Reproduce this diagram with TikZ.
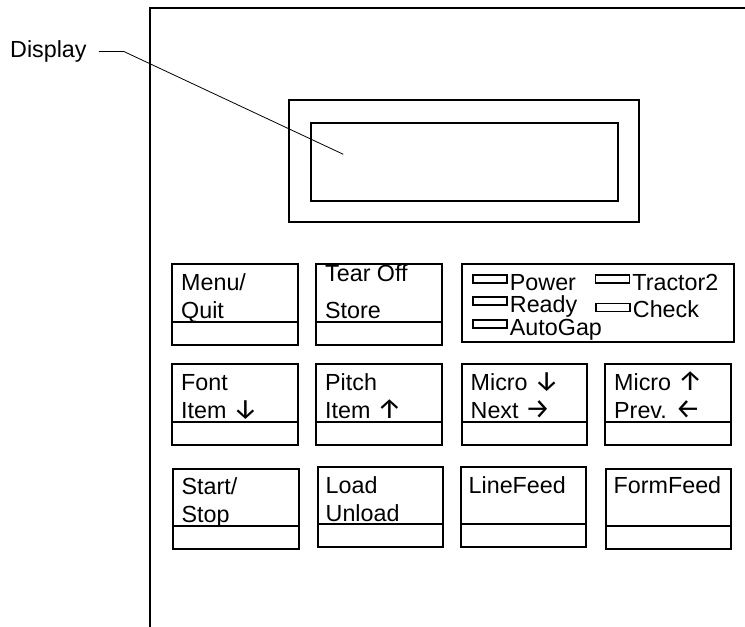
\documentclass[tikz,border=0pt]{standalone}
\usepackage{fontspec}
\setmainfont{Liberation Sans}
\newfontfamily\arrowfont{Fira Sans}
\usetikzlibrary{positioning}
\newcommand{\panelfont}{\fontsize{23.3}{28}\selectfont}
\newcommand{\arw}[1]{{\arrowfont\fontsize{28}{28}\selectfont #1}}

\begin{document}
\begin{tikzpicture}[
  x=1pt, y=-1pt,
  font=\panelfont,
  frame/.style={line width=2pt},
  screen/.style={draw, line width=2pt, anchor=north west, inner sep=0pt},
  key/.style={draw, line width=2pt, anchor=north west, inner sep=0pt, minimum width=125.5pt, minimum height=80.5pt,
    path picture={\draw[line width=2pt] ([yshift=23pt]path picture bounding box.south west) -- ([yshift=23pt]path picture bounding box.south east);}},
  keytext/.style={anchor=base west, inner sep=0pt, align=left},
  lamp/.style={draw, line width=1.5pt, minimum width=34pt, minimum height=8pt, inner sep=0pt},
  lamptext/.style={anchor=base west, inner sep=0pt, xshift=2pt, yshift=-11pt},
  leader/.style={line width=0.8pt}
]
\useasboundingbox (0,0) rectangle (745,627);

% panel outline
\draw[frame] (150,627) -- (150,8) -- (745,8);

% display window
\node[screen, minimum width=350pt, minimum height=121.5pt] (dispouter) at (288,99) {};
\node[screen, minimum width=307pt, minimum height=78pt] (dispinner) at (310,122) {};
\node[anchor=base west, inner sep=0pt] (displabel) at (10,57.5) {Display};
\coordinate (dispspot) at (343.3,154.3);
\draw[leader] ([xshift=12pt]displabel.east) -- ++(25,0) -- (dispspot);

% first row
\node[key] (menu) at (171,263) {};
\node[keytext] at ([shift={(10,55.3)}]menu.north west) {Menu/\\Quit};
\node[key] (tear) at (315,263) {};
\node[keytext] at ([shift={(10,55.3)}]tear.north west) {Tear Off\\[9pt]Store};
\node[screen, minimum width=272pt, minimum height=77.5pt] (lamps) at (460.5,263) {};
\node[lamp] (power) at (490,279) {};
\node[lamptext] at (power.east) {Power};
\node[lamp] (ready) at (490,301) {};
\node[lamptext] at (ready.east) {Ready};
\node[lamp] (autogap) at (490,324) {};
\node[lamptext] at (autogap.east) {AutoGap};
\node[lamp] (tractor) at (612.5,279) {};
\node[lamptext] at (tractor.east) {Tractor2};
\node[lamp] (check) at (613,307.5) {};
\node[lamptext, yshift=1.5pt] at (check.east) {Check};

% second row
\node[key] (font) at (171,363) {};
\node[keytext] at ([shift={(10,55)}]font.north west) {Font\\Item \arw{↓}};
\node[key] (pitch) at (315,363) {};
\node[keytext] at ([shift={(10,55)}]pitch.north west) {Pitch\\Item \arw{↑}};
\node[key] (microdn) at (460.5,363) {};
\node[keytext] at ([shift={(10,55)}]microdn.north west) {Micro \arw{↓}\\Next \arw{→}};
\node[key] (microup) at (604,363) {};
\node[keytext] at ([shift={(10,55)}]microup.north west) {Micro \arw{↑}\\Prev. \arw{←}};

% third row
\node[key] (start) at (172,467.5) {};
\node[keytext] at ([shift={(9.5,55.2)}]start.north west) {Start/\\Stop};
\node[key] (load) at (316.5,465.5) {};
\node[keytext] at ([shift={(9,56.2)}]load.north west) {Load\\Unload};
\node[key] (linefeed) at (459.5,465.5) {};
\node[keytext] at ([shift={(9,27.5)}]linefeed.north west) {LineFeed};
\node[key] (formfeed) at (604.5,467.5) {};
\node[keytext] at ([shift={(9,26)}]formfeed.north west) {FormFeed};
\end{tikzpicture}
\end{document}
